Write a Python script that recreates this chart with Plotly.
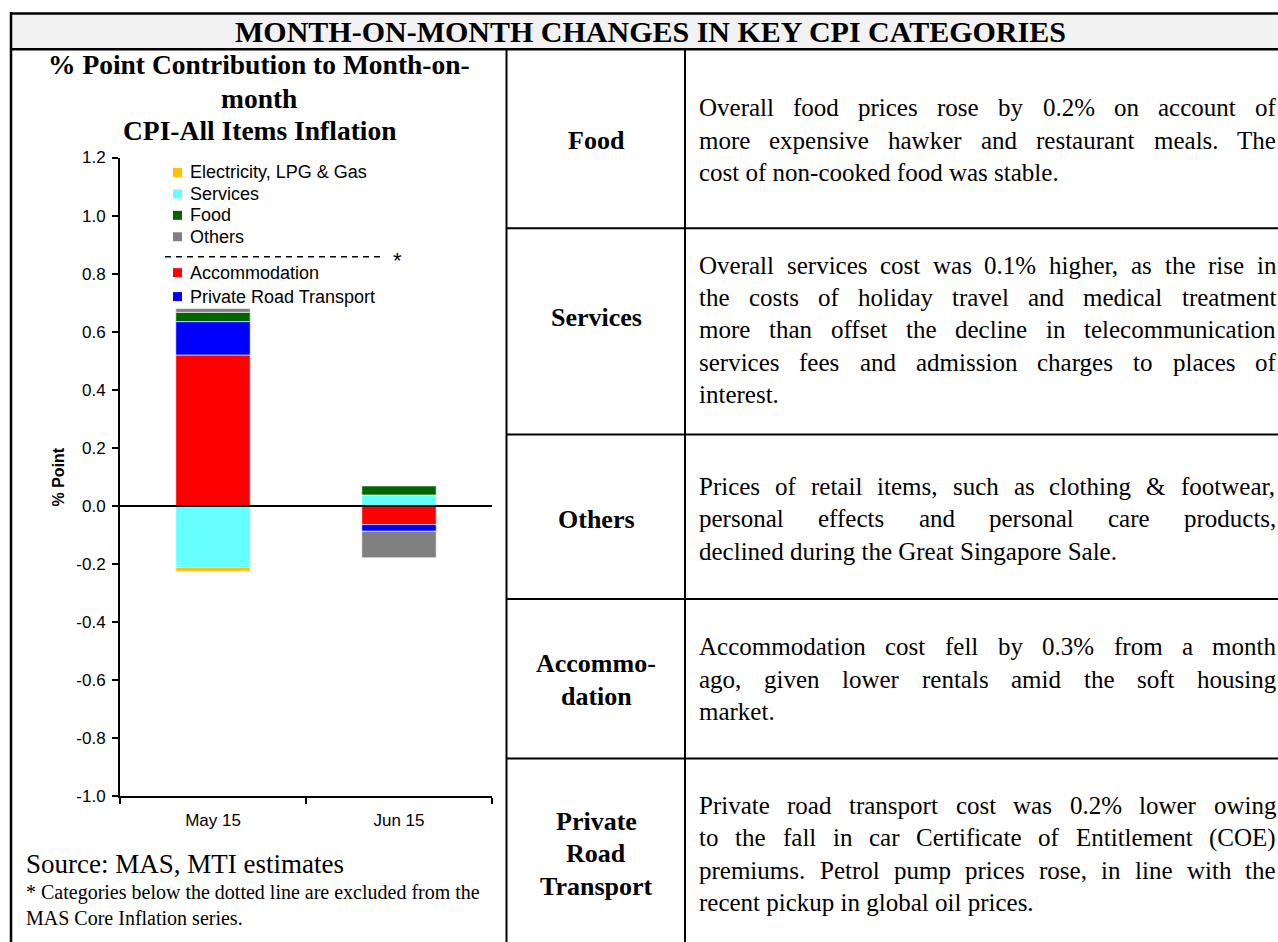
import plotly.graph_objects as go

W, H = 1278, 942

# ---------------- data ----------------
categories = ["May 15", "Jun 15"]
series_names = ["Accommodation", "Private Road Transport", "Services", "Food", "Others",
                "Electricity, LPG & Gas"]
accommodation = [0.52, -0.064]
private_road_transport = [0.115, -0.023]
services = [-0.212, 0.038]
food = [0.032, 0.032]
others = [0.013, -0.091]
electricity_lpg_gas = [-0.0125, 0.0]
series_colors = ["#FF0000", "#0000FF", "#66FFFF", "#006600", "#808080", "#FFC000"]

y_tickvals = [1.2, 1.0, 0.8, 0.6, 0.4, 0.2, 0.0, -0.2, -0.4, -0.6, -0.8, -1.0]
y_ticktext = ["1.2", "1.0", "0.8", "0.6", "0.4", "0.2", "0.0", "-0.2", "-0.4", "-0.6", "-0.8", "-1.0"]

legend_upper = ["Electricity, LPG & Gas", "Services", "Food", "Others"]
legend_lower = ["Accommodation", "Private Road Transport"]

header_title = "MONTH-ON-MONTH CHANGES IN KEY CPI CATEGORIES"
chart_title_lines = ["% Point Contribution to Month-on-", "month", "CPI-All Items Inflation"]
y_axis_title = "% Point"
source_text = "Source: MAS, MTI estimates"
footnote_lines = ["* Categories below the dotted line are excluded from the",
                  "MAS Core Inflation series."]

row_labels = [["Food"], ["Services"], ["Others"], ["Accommo-", "dation"],
              ["Private", "Road", "Transport"]]
row_descriptions = [
    ["Overall food prices rose by 0.2% on account of",
     "more expensive hawker and restaurant meals.  The",
     "cost of non-cooked food was stable."],
    ["Overall services cost was 0.1% higher, as the rise in",
     "the costs of holiday travel and medical treatment",
     "more than offset the decline in telecommunication",
     "services fees and admission charges to places of",
     "interest."],
    ["Prices of retail items, such as clothing & footwear,",
     "personal effects and personal care products,",
     "declined during the Great Singapore Sale."],
    ["Accommodation cost fell by 0.3% from a month",
     "ago, given lower rentals amid the soft housing",
     "market."],
    ["Private road transport cost was 0.2% lower owing",
     "to the fall in car Certificate of Entitlement (COE)",
     "premiums.  Petrol pump prices rose, in line with the",
     "recent pickup in global oil prices."],
]

# ---------------- layout helpers ----------------
SERIF = "Liberation Serif, Times New Roman, serif"
SANS = "Liberation Sans, Arial, sans-serif"

# the page shows the figure 8px down and about 926px tall; map target pixels to paper
OFF_Y = 8.0
EFF_H = 926.0


def px(x):
    return x / W


def py(y):
    return 1 - (y - OFF_Y) / EFF_H


def esc(s):
    return s.replace("&", "&amp;")


def ann(x, y, text, size, family=SERIF, bold=False, anchor="center", angle=0):
    return dict(x=px(x), y=py(y), xref="paper", yref="paper", text=text,
                showarrow=False, xanchor=anchor, yanchor="middle", textangle=angle,
                borderpad=0, align="left" if anchor == "left" else "center",
                font=dict(family=family, size=size, color="black",
                          weight="bold" if bold else "normal"))


TIMES = {' ': 250, '!': 333, '%': 833, '&': 778, '(': 333, ')': 333, ',': 250, '-': 333,
         '.': 250, '/': 278, ':': 278, ';': 278,
         'A': 722, 'B': 667, 'C': 667, 'D': 722, 'E': 611, 'F': 556, 'G': 722, 'H': 722,
         'I': 333, 'J': 389, 'K': 722, 'L': 611, 'M': 889, 'N': 722, 'O': 722, 'P': 556,
         'Q': 722, 'R': 667, 'S': 556, 'T': 611, 'U': 722, 'V': 722, 'W': 944, 'X': 722,
         'Y': 722, 'Z': 611,
         'a': 444, 'b': 500, 'c': 444, 'd': 500, 'e': 444, 'f': 333, 'g': 500, 'h': 500,
         'i': 278, 'j': 278, 'k': 500, 'l': 278, 'm': 778, 'n': 500, 'o': 500, 'p': 500,
         'q': 500, 'r': 333, 's': 389, 't': 278, 'u': 500, 'v': 500, 'w': 722, 'x': 500,
         'y': 500, 'z': 444}
for d in "0123456789":
    TIMES[d] = 500


def tw(s, size):
    return sum(TIMES.get(c, 500) for c in s) * size / 1000.0


# ---------------- figure ----------------
series_values = [accommodation, private_road_transport, services, food, others,
                 electricity_lpg_gas]

fig = go.Figure()
for name, vals, col in zip(series_names, series_values, series_colors):
    fig.add_trace(go.Bar(x=categories, y=vals, name=name, showlegend=False,
                         marker=dict(color=col,
                                     line=dict(color="rgba(255,255,255,0.6)", width=1))))

X0, X1 = 120, 492
Y_TOP, Y_BOT = 157, 798

fig.update_layout(
    width=W, height=H, autosize=False,
    margin=dict(l=0, r=0, t=0, b=0),
    paper_bgcolor="white", plot_bgcolor="white",
    barmode="relative", bargap=0.6,
    showlegend=False,
    xaxis=dict(domain=[px(X0), px(X1)], type="category", showline=True, linecolor="black",
               linewidth=2, ticks="outside", tickson="boundaries", ticklen=6, tickwidth=1.5,
               tickcolor="black", showgrid=False, zeroline=False,
               tickfont=dict(family=SANS, size=17, color="black"), ticklabelstandoff=7),
    yaxis=dict(domain=[py(Y_BOT), py(Y_TOP)], range=[-1.0, 1.2], tickvals=y_tickvals,
               ticktext=y_ticktext, showline=True, linecolor="black", linewidth=2,
               ticks="outside", ticklen=6, tickwidth=1.5, tickcolor="black",
               showgrid=False, zeroline=False,
               tickfont=dict(family=SANS, size=17, color="black"), ticklabelstandoff=3),
)

shapes = []
# header band
shapes.append(dict(type="rect", xref="paper", yref="paper", x0=px(11), x1=px(W + 2),
                   y0=py(48), y1=py(12), fillcolor="#F2F2F2", line=dict(width=0),
                   layer="below"))


def hline(y, xa, xb, w=2):
    shapes.append(dict(type="line", xref="paper", yref="paper", x0=px(xa), x1=px(xb),
                       y0=py(y), y1=py(y), line=dict(color="black", width=w)))


def vline(x, ya, yb, w=2):
    shapes.append(dict(type="line", xref="paper", yref="paper", x0=px(x), x1=px(x),
                       y0=py(ya), y1=py(yb), line=dict(color="black", width=w)))


hline(12.5, 10, W + 2, 2.5)
hline(48.5, 10, W + 2, 2.5)
vline(11, 11, H + 20, 2.5)
vline(506.5, 48, H + 20, 2)
vline(685, 48, H + 20, 2)
row_bounds = [228, 435, 600, 760]
for yb in row_bounds:
    hline(yb, 506, W + 2, 2)

# zero line across the plot
shapes.append(dict(type="line", xref="x domain", yref="y", x0=0, x1=1, y0=0, y1=0,
                   line=dict(color="black", width=2), layer="above"))

annotations = []
# manual legend
legend_upper_y = [172, 193.5, 215, 236.5]
legend_lower_y = [272.5, 296.5]
for names, ys in ((legend_upper, legend_upper_y), (legend_lower, legend_lower_y)):
    for name, yy in zip(names, ys):
        col = series_colors[series_names.index(name)]
        shapes.append(dict(type="rect", xref="paper", yref="paper", x0=px(173), x1=px(182),
                           y0=py(yy + 4.5), y1=py(yy - 4.5), fillcolor=col,
                           line=dict(width=0)))
        annotations.append(ann(189, yy, esc(name), 18, family=SANS, anchor="left"))
shapes.append(dict(type="line", xref="paper", yref="paper", x0=px(165), x1=px(383),
                   y0=py(256.5), y1=py(256.5),
                   line=dict(color="black", width=1.5, dash="6px,5px")))
annotations.append(ann(397, 260, "*", 22, family=SANS))

# titles & texts
annotations.append(ann(650, 31, header_title, 30, bold=True))
for txt, yy in zip(chart_title_lines, [64, 98, 130]):
    annotations.append(ann(259, yy, esc(txt), 27.5, bold=True))
annotations.append(ann(58, 478, y_axis_title, 16, family=SANS, bold=True, angle=-90))
annotations.append(ann(25, 866, source_text, 27, anchor="left"))
annotations.append(ann(25, 907, "<br>".join(esc(t) for t in footnote_lines), 20,
                       anchor="left"))

# table
label_first_y = [140, 318, 520, 665, 823]
desc_first_y = [107, 265, 487, 648, 807]
LINE = 32.5
DX0, DX1 = 698, 1275
DSIZE = 25
for labels, ly in zip(row_labels, label_first_y):
    for i, t in enumerate(labels):
        annotations.append(ann(596, ly + i * LINE, t, 26, bold=True))
for lines, dy in zip(row_descriptions, desc_first_y):
    for i, line in enumerate(lines):
        yy = dy + i * LINE
        if i == len(lines) - 1:
            annotations.append(ann(DX0, yy, esc(line), DSIZE, anchor="left"))
            continue
        words = line.split()
        widths = [tw(wd, DSIZE) for wd in words]
        gap = (DX1 - DX0 - sum(widths)) / (len(words) - 1)
        xx = DX0
        for wd, wdt in zip(words, widths):
            annotations.append(ann(xx, yy, esc(wd), DSIZE, anchor="left"))
            xx += wdt + gap

fig.update_layout(shapes=shapes, annotations=annotations)
fig.write_html("out.html")
